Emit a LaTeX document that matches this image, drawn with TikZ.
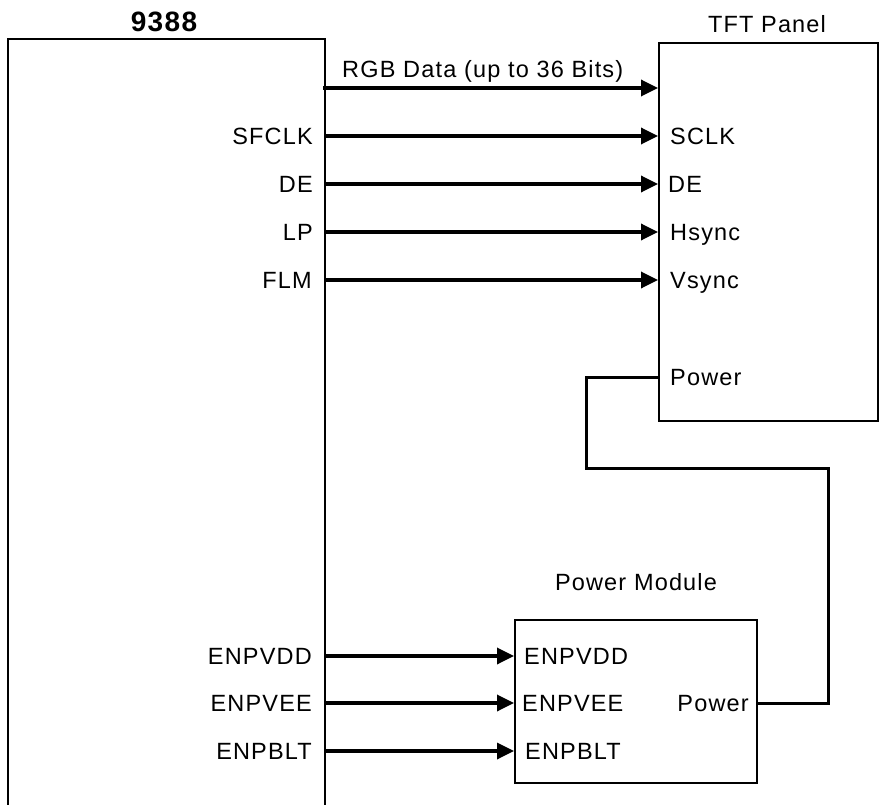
\documentclass[tikz,border=0pt]{standalone}
\usepackage{fontspec}
\setmainfont[LetterSpace=5]{Liberation Sans}
\usetikzlibrary{positioning,arrows.meta}
\tikzset{
  blockbox/.style={draw, line width=1.8pt, rectangle, inner sep=0pt, anchor=north west},
  sig/.style={-{Triangle[length=17pt,width=16pt]}, line width=3.4pt},
  pwrwire/.style={line width=3pt},
  pin/.style={inner sep=0pt, text height=16.8pt, text depth=0pt},
  pinleft/.style={pin, anchor=east},
  pinright/.style={pin, anchor=west},
  blocktitle/.style={anchor=base, inner sep=0pt}
}
\newcommand{\pinsize}{\fontsize{23.5}{28}\selectfont}

\begin{document}
\begin{tikzpicture}[x=1pt, y=-1pt, font=\pinsize]
  \useasboundingbox (0,0) rectangle (883,805);

  % blocks
  \node[blockbox, draw=none, minimum width=315pt, minimum height=790pt] (chip) at (8,39) {};
  \draw[line width=1.8pt] (chip.south west) |- (chip.north east) -- (chip.south east);
  \node[blockbox, minimum width=219pt, minimum height=378pt] (tft) at (658,42) {};
  \node[blockbox, minimum width=242pt, minimum height=163pt] (pm) at (514,619) {};

  \node[blocktitle, font=\fontsize{28}{32}\selectfont\bfseries] (chiptitle) at (164,32) {9388};
  \node[blocktitle] (tfttitle) at (767,33) {TFT Panel};
  \node[blocktitle] (pmtitle) at (636,590) {Power Module};

  % chip pins
  \node[pinleft] (sfclk) at (313,136) {SFCLK};
  \node[pinleft] (de) at (313,184) {DE};
  \node[pinleft] (lp) at (313,232) {LP};
  \node[pinleft] (flm) at (312,280) {FLM};
  \node[pinleft] (enpvdd) at (312,656) {ENPVDD};
  \node[pinleft] (enpvee) at (312,703) {ENPVEE};
  \node[pinleft] (enpblt) at (312,751) {ENPBLT};

  % panel pins
  \node[pinright] (sclk) at (670,136) {SCLK};
  \node[pinright] (tftde) at (668,184) {DE};
  \node[pinright] (hsync) at (670,232) {Hsync};
  \node[pinright] (vsync) at (670,280) {Vsync};
  \node[pinright] (tftpwr) at (670,377) {Power};

  % power module pins
  \node[pinright] (pmvdd) at (524,656) {ENPVDD};
  \node[pinright] (pmvee) at (522,703) {ENPVEE};
  \node[pinright] (pmblt) at (525,751) {ENPBLT};
  \node[pinleft] (pmpwr) at (749,703) {Power};

  % rgb bus
  \coordinate (rgbpin) at (323,88);
  \node[anchor=base west, inner sep=0pt] (rgb) at (342,78) {RGB Data (up to 36 Bits)};
  \draw[sig] (rgbpin) -- (tft.west |- rgbpin);

  \draw[sig] (chip.east |- sfclk) -- (tft.west |- sclk);
  \draw[sig] (chip.east |- de) -- (tft.west |- tftde);
  \draw[sig] (chip.east |- lp) -- (tft.west |- hsync);
  \draw[sig] (chip.east |- flm) -- (tft.west |- vsync);

  \draw[sig] (chip.east |- enpvdd) -- (pm.west |- pmvdd);
  \draw[sig] (chip.east |- enpvee) -- (pm.west |- pmvee);
  \draw[sig] (chip.east |- enpblt) -- (pm.west |- pmblt);

  % power feed to the panel
  \draw[pwrwire] (pm.east |- pmpwr) -| (828,468) -| (586,377) -- (tft.west |- tftpwr);
\end{tikzpicture}
\end{document}
